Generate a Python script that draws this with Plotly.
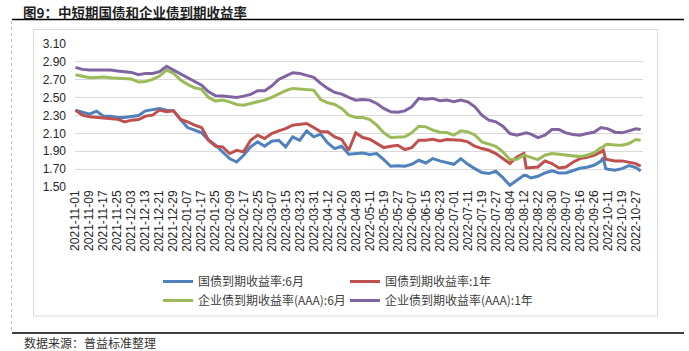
import pandas as pd
import plotly.graph_objects as go

# ---------------- data ----------------
title_text = "图9：中短期国债和企业债到期收益率"
source_text = "数据来源：普益标准整理"
series_names = ["国债到期收益率:6月", "国债到期收益率:1年",
                "企业债到期收益率(AAA):6月", "企业债到期收益率(AAA):1年"]
series_colors = ["#4F81BD", "#C0504D", "#9BBB59", "#8064A2"]

start_date, end_date = "2021-11-01", "2022-10-31"
holidays = ["2022-01-03", "2022-01-31", "2022-02-01", "2022-02-02", "2022-02-03",
            "2022-02-04", "2022-04-04", "2022-04-05", "2022-05-02", "2022-05-03",
            "2022-05-04", "2022-06-03", "2022-09-12", "2022-10-03", "2022-10-04",
            "2022-10-05", "2022-10-06", "2022-10-07"]
trade_days = [d.strftime("%Y-%m-%d") for d in pd.bdate_range(start_date, end_date)
              if d.strftime("%Y-%m-%d") not in holidays]
tick_labels = trade_days[::6]

sample_idx = (list(range(0, 193, 3)) + [193] + list(range(195, 226, 3)) + [226, 227]
              + list(range(228, 241, 3)) + [242])
sample_dates = [trade_days[i] for i in sample_idx]

gov_6m = [2.360, 2.341, 2.315, 2.349, 2.293, 2.293, 2.278, 2.278, 2.293, 2.300, 2.352,
          2.367, 2.379, 2.360, 2.352, 2.255, 2.165, 2.136, 2.106, 2.023, 1.967,
          1.893, 1.818, 1.780, 1.855, 1.949, 2.005, 1.956, 2.012, 2.023, 1.949, 2.061,
          2.023, 2.128, 2.061, 2.091, 1.994, 1.930, 1.956, 1.866, 1.874, 1.881,
          1.863, 1.874, 1.807, 1.732, 1.739, 1.732, 1.754, 1.799, 1.769, 1.818, 1.792,
          1.777, 1.754, 1.818, 1.754, 1.706, 1.661, 1.650, 1.676, 1.605, 1.519,
          1.575, 1.631, 1.628, 1.601, 1.620, 1.657, 1.680, 1.657, 1.657, 1.687, 1.709,
          1.721, 1.743, 1.790, 1.829, 1.706, 1.698, 1.687, 1.706, 1.739, 1.717, 1.680]
gov_1y = [2.360, 2.304, 2.285, 2.278, 2.278, 2.266, 2.259, 2.229, 2.248, 2.255, 2.293,
          2.304, 2.360, 2.341, 2.352, 2.255, 2.229, 2.192, 2.165, 2.023, 1.956,
          1.949, 1.874, 1.911, 1.893, 2.023, 2.080, 2.042, 2.098, 2.128, 2.154, 2.192,
          2.203, 2.210, 2.165, 2.117, 2.117, 2.061, 2.031, 1.911, 2.106, 2.053,
          2.035, 1.986, 1.941, 1.956, 1.967, 1.919, 1.941, 2.023, 2.023, 2.035, 2.016,
          2.031, 2.023, 2.023, 2.005, 1.956, 1.930, 1.911, 1.874, 1.818, 1.762,
          1.837, 1.874, 1.713, 1.717, 1.724, 1.792, 1.762, 1.713, 1.724, 1.777, 1.818,
          1.833, 1.855, 1.893, 1.911, 1.811, 1.807, 1.792, 1.792, 1.780, 1.762, 1.732]
corp_6m = [2.756, 2.741, 2.722, 2.726, 2.730, 2.722, 2.719, 2.715, 2.708, 2.674, 2.681,
           2.704, 2.741, 2.808, 2.771, 2.696, 2.648, 2.610, 2.592, 2.502, 2.461,
           2.472, 2.453, 2.423, 2.416, 2.435, 2.453, 2.472, 2.502, 2.539, 2.577, 2.603,
           2.595, 2.584, 2.584, 2.479, 2.442, 2.423, 2.379, 2.304, 2.278, 2.278,
           2.255, 2.192, 2.106, 2.053, 2.061, 2.061, 2.106, 2.180, 2.173, 2.136, 2.113,
           2.109, 2.080, 2.128, 2.117, 2.083, 2.005, 1.979, 1.956, 1.893, 1.807,
           1.810, 1.855, 1.848, 1.829, 1.807, 1.855, 1.874, 1.866, 1.855, 1.844, 1.840,
           1.855, 1.881, 1.941, 1.949, 1.975, 1.979, 1.971, 1.967, 1.986, 2.031, 2.023]
corp_1y = [2.838, 2.816, 2.808, 2.808, 2.801, 2.808, 2.797, 2.786, 2.782, 2.756, 2.771,
           2.771, 2.790, 2.850, 2.808, 2.771, 2.726, 2.689, 2.640, 2.565, 2.521,
           2.517, 2.509, 2.502, 2.517, 2.536, 2.577, 2.577, 2.629, 2.704, 2.741, 2.779,
           2.771, 2.752, 2.726, 2.659, 2.603, 2.558, 2.539, 2.502, 2.472, 2.479,
           2.472, 2.435, 2.379, 2.341, 2.337, 2.352, 2.397, 2.491, 2.483, 2.491, 2.465,
           2.472, 2.453, 2.472, 2.453, 2.397, 2.304, 2.248, 2.229, 2.180, 2.098,
           2.080, 2.106, 2.106, 2.091, 2.053, 2.080, 2.143, 2.143, 2.106, 2.087, 2.080,
           2.098, 2.113, 2.165, 2.162, 2.158, 2.151, 2.113, 2.106, 2.128, 2.151, 2.143]
series_values = [gov_6m, gov_1y, corp_6m, corp_1y]
series_legend = ["legend", "legend", "legend2", "legend2"]

y_ticks = [1.50, 1.70, 1.90, 2.10, 2.30, 2.50, 2.70, 2.90, 3.10]

# ---------------- layout helpers ----------------
FW, FH = 689, 351
ML, MR, MT, MB = 75, 46, 44, 164
PW, PH = FW - ML - MR, FH - MT - MB


def px(x):
    return (x - ML) / PW


def py(y):
    return (FH - MB - y) / PH


CJK = "Noto Sans CJK SC"
LAT = "Liberation Sans, Arial"

fig = go.Figure()
for name, vals, col, lg in zip(series_names, series_values, series_colors, series_legend):
    fig.add_trace(go.Scatter(x=sample_dates, y=vals, name=name, mode="lines",
                             line=dict(color=col, width=3), legend=lg))

legend_common = dict(orientation="h", xanchor="left", yanchor="middle",
                     x=px(158), entrywidth=142, entrywidthmode="pixels",
                     font=dict(family=CJK, size=12, color="#404040"),
                     bgcolor="rgba(0,0,0,0)", traceorder="normal")

fig.update_layout(
    width=FW, height=FH,
    margin=dict(l=ML, r=MR, t=MT, b=MB, pad=0),
    paper_bgcolor="white", plot_bgcolor="white",
    showlegend=True,
    legend=dict(y=py(281.5), **legend_common),
    legend2=dict(y=py(300.5), **legend_common),
    xaxis=dict(type="category", categoryorder="array", categoryarray=trade_days,
               tickvals=tick_labels, ticktext=tick_labels, tickangle=-90,
               range=[-0.2, 243], showgrid=False, zeroline=False, showline=False,
               ticks="", automargin=False,
               tickfont=dict(family=LAT, size=12, color="#262626")),
    yaxis=dict(range=[1.5, 3.1], tickvals=y_ticks, tickformat=".2f",
               showgrid=True, gridcolor="#d9d9d9", gridwidth=1, zeroline=False,
               showline=False, ticks="", automargin=False, ticklabelstandoff=8,
               tickfont=dict(family=LAT, size=12, color="#262626")),
    annotations=[
        dict(text=title_text, x=px(22), y=py(0.5), xref="paper", yref="paper",
             xanchor="left", yanchor="top", showarrow=False, borderpad=0,
             font=dict(family=CJK, size=13.5, color="#1f1f1f", weight="bold")),
        dict(text=source_text, x=px(22), y=py(342.5), xref="paper", yref="paper",
             xanchor="left", yanchor="middle", showarrow=False,
             font=dict(family=CJK, size=12, color="#333333")),
    ],
    shapes=[
        dict(type="line", xref="paper", yref="paper", x0=px(12), x1=px(684),
             y0=py(19.5), y1=py(19.5), line=dict(color="black", width=1.5)),
        dict(type="line", xref="paper", yref="paper", x0=px(12), x1=px(684),
             y0=py(333), y1=py(333), line=dict(color="black", width=1.5)),
        dict(type="line", xref="paper", yref="paper", x0=px(11.5), x1=px(11.5),
             y0=py(21), y1=py(332), line=dict(color="#bfbfbf", width=1, dash="3px,3px")),
        dict(type="rect", xref="paper", yref="paper", x0=px(33.5), x1=px(657.5),
             y0=py(29.5), y1=py(316), line=dict(color="#d9d9d9", width=1),
             fillcolor="rgba(0,0,0,0)", layer="below"),
    ],
)

fig.write_html("out.html")
